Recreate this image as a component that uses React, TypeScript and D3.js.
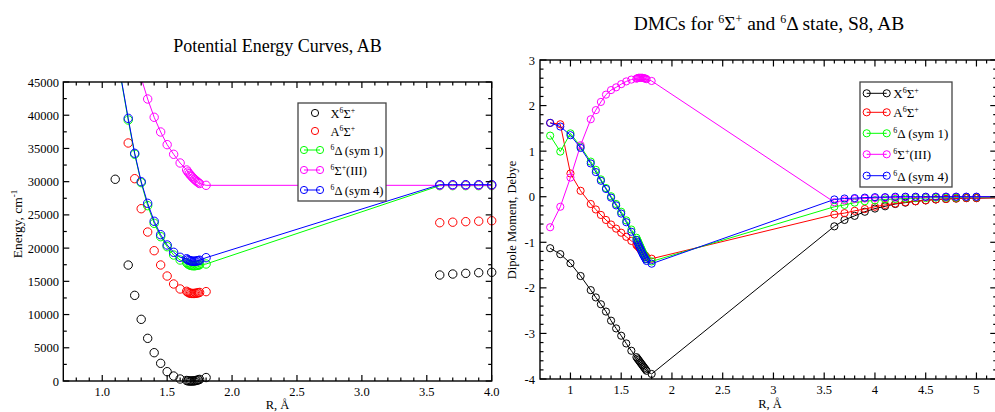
import React from 'react';
import * as d3 from 'd3';

// ---------- Left panel: Potential energy curves (cm^-1) ----------
const pecR_X = [1.1, 1.2, 1.25, 1.3, 1.35, 1.4, 1.45, 1.5, 1.55, 1.6, 1.65, 1.66, 1.67, 1.68, 1.69, 1.7, 1.71, 1.72, 1.73, 1.74, 1.75, 1.8, 3.6, 3.7, 3.8, 3.9, 4.0];
const pecX = [30360, 17450, 12890, 9280, 6420, 4260, 2660, 1400, 750, 300, 80, 30, 5, 0, 0, 10, 30, 60, 110, 170, 240, 520, 15950, 16100, 16200, 16300, 16360];

const pecR_A = [1.2, 1.25, 1.3, 1.35, 1.4, 1.45, 1.5, 1.55, 1.6, 1.65, 1.66, 1.67, 1.68, 1.69, 1.7, 1.71, 1.72, 1.73, 1.74, 1.75, 1.8, 3.6, 3.7, 3.8, 3.9, 4.0];
const pecA = [35820, 30450, 25930, 22420, 19610, 17460, 15800, 14600, 13850, 13500, 13350, 13250, 13200, 13180, 13170, 13180, 13200, 13240, 13280, 13330, 13450, 23820, 23900, 23980, 24050, 24120];

const pecR_D = [1.1, 1.2, 1.25, 1.3, 1.35, 1.4, 1.45, 1.5, 1.55, 1.6, 1.65, 1.66, 1.67, 1.68, 1.69, 1.7, 1.71, 1.72, 1.73, 1.74, 1.75, 1.8, 3.6, 3.7, 3.8, 3.9, 4.0];
const pecD1 = [50500, 39280, 34120, 29850, 26390, 23730, 21720, 20210, 18960, 18210, 17800, 17620, 17500, 17420, 17370, 17350, 17350, 17370, 17400, 17440, 17490, 17610, 29400, 29400, 29400, 29400, 29400];
const pecD4 = [50500, 39530, 34270, 30000, 26740, 24040, 22020, 20470, 19370, 18620, 18400, 18250, 18150, 18080, 18040, 18020, 18020, 18040, 18080, 18120, 18180, 18560, 29550, 29550, 29550, 29550, 29550];

const pecR_S3 = [1.3, 1.35, 1.4, 1.45, 1.5, 1.55, 1.6, 1.65, 1.66, 1.67, 1.68, 1.69, 1.7, 1.71, 1.72, 1.73, 1.74, 1.75, 1.8, 3.6, 3.7, 3.8, 3.9, 4.0];
const pecS3 = [45600, 42440, 39690, 37475, 35570, 34120, 32810, 31760, 31450, 31200, 30980, 30760, 30560, 30370, 30190, 30020, 29860, 29720, 29450, 29450, 29450, 29450, 29450, 29450];

// ---------- Right panel: dipole moment curves (Debye) ----------
const dmcR = [0.8, 0.9, 1.0, 1.1, 1.2, 1.25, 1.3, 1.35, 1.4, 1.45, 1.5, 1.55, 1.6, 1.65, 1.66, 1.67, 1.68, 1.69, 1.7, 1.71, 1.72, 1.73, 1.74, 1.75, 1.8, 3.6, 3.7, 3.8, 3.9, 4.0, 4.1, 4.2, 4.3, 4.4, 4.5, 4.6, 4.7, 4.8, 4.9, 5.0, 5.5];
const dmcX = [-1.13, -1.26, -1.46, -1.74, -2.05, -2.21, -2.36, -2.52, -2.72, -2.89, -3.05, -3.22, -3.38, -3.52, -3.55, -3.58, -3.61, -3.64, -3.67, -3.7, -3.73, -3.76, -3.79, -3.82, -3.89, -0.65, -0.51, -0.42, -0.33, -0.26, -0.21, -0.16, -0.13, -0.1, -0.08, -0.06, -0.05, -0.04, -0.03, -0.03, -0.01];
const dmcA = [1.62, 1.59, 0.51, 0.13, -0.16, -0.28, -0.4, -0.51, -0.61, -0.7, -0.79, -0.88, -0.97, -1.06, -1.08, -1.1, -1.13, -1.16, -1.19, -1.22, -1.25, -1.28, -1.3, -1.33, -1.36, -0.39, -0.36, -0.31, -0.27, -0.22, -0.18, -0.15, -0.12, -0.1, -0.08, -0.06, -0.05, -0.04, -0.03, -0.03, -0.02];
const dmcD1 = [1.34, 0.99, 1.39, 1.1, 0.77, 0.59, 0.38, 0.19, 0.01, -0.16, -0.33, -0.52, -0.72, -0.9, -0.95, -1.0, -1.05, -1.1, -1.15, -1.2, -1.25, -1.29, -1.33, -1.37, -1.42, -0.22, -0.18, -0.13, -0.1, -0.08, -0.06, -0.05, -0.04, -0.03, -0.03, -0.02, -0.02, -0.02, -0.01, -0.01, 0];
const dmcS3 = [-0.67, -0.22, 0.42, 1.13, 1.7, 1.9, 2.08, 2.24, 2.34, 2.4, 2.47, 2.53, 2.57, 2.59, 2.6, 2.61, 2.61, 2.61, 2.61, 2.61, 2.6, 2.6, 2.59, 2.58, 2.54, -0.12, -0.08, -0.05, -0.04, -0.03, -0.02, -0.02, -0.01, -0.01, -0.01, 0, 0, 0, 0, 0, 0];
const dmcD4 = [1.62, 1.54, 1.35, 1.07, 0.73, 0.54, 0.35, 0.17, -0.02, -0.19, -0.37, -0.56, -0.77, -0.95, -1.0, -1.05, -1.1, -1.15, -1.2, -1.25, -1.29, -1.33, -1.37, -1.41, -1.47, -0.06, -0.04, -0.03, -0.02, -0.01, -0.01, 0, 0, 0, 0, 0, 0, 0, 0, 0, 0];

// ---------- labels ----------
type Part = [string, number];
const legendLabels: Part[][] = [
  [['X', 0], ['6', 1], ['Σ', 0], ['+', 1]],
  [['A', 0], ['6', 1], ['Σ', 0], ['+', 1]],
  [['6', 1], ['Δ (sym 1)', 0]],
  [['6', 1], ['Σ', 0], ['+', 1], ['(III)', 0]],
  [['6', 1], ['Δ (sym 4)', 0]],
];
const seriesColors = ['#000000', '#ff0000', '#00ff00', '#ff00ff', '#0000ff'];
const leftTitle = 'Potential Energy Curves, AB';
const rightTitle: Part[] = [['DMCs for ', 0], ['6', 1], ['Σ', 0], ['+', 1], [' and ', 0], ['6', 1], ['Δ state, S8, AB', 0]];
const energyLabel: Part[] = [['Energy, cm', 0], ['-1', 1]];
const dipoleLabel = 'Dipole Moment, Debye';
const rLabel = 'R, Å';

const FONT = '"Liberation Serif", "Times New Roman", serif';

function rich(parts: Part[], shift: number, supSize: number) {
  let cur = 0;
  return parts.map(([t, sup], i) => {
    const target = sup ? -shift : 0;
    const dy = target - cur;
    cur = target;
    return (
      <tspan key={i} dy={dy} fontSize={sup ? supSize : undefined}>
        {t}
      </tspan>
    );
  });
}

function ticksOf(lo: number, hi: number, step: number) {
  const n = Math.round((hi - lo) / step);
  const out: number[] = [];
  for (let i = 0; i <= n; i++) out.push(+(lo + i * step).toFixed(6));
  return out;
}

type Series = { r: number[]; v: number[]; color: string; line: boolean };

function Frame({ x, y, xMaj, xMin, yMaj, yMin, xFmt, yFmt, majLen, minLen, fs, yLabelX }: any) {
  const [x0, x1] = x.range();
  const [y0, y1] = y.range(); // y0 bottom, y1 top
  const els: any[] = [];
  xMaj.forEach((v: number, i: number) => {
    const px = x(v);
    els.push(<line key={'xM' + i} x1={px} x2={px} y1={y0} y2={y0 - majLen} />);
    els.push(<line key={'xMt' + i} x1={px} x2={px} y1={y1} y2={y1 + majLen} />);
  });
  xMin.forEach((v: number, i: number) => {
    const px = x(v);
    els.push(<line key={'xm' + i} x1={px} x2={px} y1={y0} y2={y0 - minLen} />);
    els.push(<line key={'xmt' + i} x1={px} x2={px} y1={y1} y2={y1 + minLen} />);
  });
  yMaj.forEach((v: number, i: number) => {
    const py = y(v);
    els.push(<line key={'yM' + i} x1={x0} x2={x0 + majLen} y1={py} y2={py} />);
    els.push(<line key={'yMr' + i} x1={x1} x2={x1 - majLen} y1={py} y2={py} />);
  });
  yMin.forEach((v: number, i: number) => {
    const py = y(v);
    els.push(<line key={'ym' + i} x1={x0} x2={x0 + minLen} y1={py} y2={py} />);
    els.push(<line key={'ymr' + i} x1={x1} x2={x1 - minLen} y1={py} y2={py} />);
  });
  return (
    <g>
      <g stroke="#000" strokeWidth={1.2}>{els}</g>
      <rect x={x0} y={y1} width={x1 - x0} height={y0 - y1} fill="none" stroke="#000" strokeWidth={1.4} />
      <g fontFamily={FONT} fontSize={fs} fill="#000">
        {xMaj.map((v: number, i: number) => (
          <text key={'xl' + i} x={x(v)} y={y0 + 15} textAnchor="middle">{xFmt(v)}</text>
        ))}
        {yMaj.map((v: number, i: number) => (
          <text key={'yl' + i} x={yLabelX} y={y(v) + 4.5} textAnchor="end">{yFmt(v)}</text>
        ))}
      </g>
    </g>
  );
}

function Curves({ series, x, y, r, clipId }: { series: Series[]; x: any; y: any; r: number; clipId: string }) {
  const gen = d3.line<number>().x((_, i) => 0).y(() => 0);
  return (
    <g clipPath={`url(#${clipId})`}>
      {series.map((s, k) => {
        const pts: [number, number][] = s.r.map((rv, i) => [x(rv), y(s.v[i])]);
        const path = d3.line()(pts) || '';
        return (
          <g key={k}>
            {s.line && <path d={path} fill="none" stroke={s.color} strokeWidth={1} />}
            {pts.map((p, i) => (
              <circle key={i} cx={p[0]} cy={p[1]} r={r} fill="none" stroke={s.color} strokeWidth={1} />
            ))}
          </g>
        );
      })}
    </g>
  );
}

function Legend({ x, y, w, h, rows, lineX0, lineX1, textX, r, fs, lineFlags }: any) {
  return (
    <g>
      <rect x={x} y={y} width={w} height={h} fill="#fff" stroke="#444" strokeWidth={1.3} />
      {rows.map((ry: number, i: number) => {
        const c = seriesColors[i];
        return (
          <g key={i}>
            {lineFlags[i] ? (
              <g>
                <line x1={lineX0} x2={lineX1} y1={ry} y2={ry} stroke={c} strokeWidth={1} />
                <circle cx={lineX0} cy={ry} r={r} fill="none" stroke={c} />
                <circle cx={lineX1} cy={ry} r={r} fill="none" stroke={c} />
              </g>
            ) : (
              <circle cx={(lineX0 + lineX1) / 2 + 3} cy={ry} r={r} fill="none" stroke={c} />
            )}
            <text x={textX} y={ry + 5} fontFamily={FONT} fontSize={fs} fill="#000" style={{ whiteSpace: 'pre' }}>
              {rich(legendLabels[i], 5, fs * 0.62)}
            </text>
          </g>
        );
      })}
    </g>
  );
}

export default function App() {
  // left panel scales
  const lx = d3.scaleLinear().domain([0.7, 4.0]).range([63.3, 491.7]);
  const ly = d3.scaleLinear().domain([0, 45000]).range([381, 82]);
  // right panel scales
  const rx = d3.scaleLinear().domain([0.7, 5.2]).range([540, 996.75]);
  const ry = d3.scaleLinear().domain([-4, 3]).range([379, 60]);

  const leftSeries: Series[] = [
    { r: pecR_X, v: pecX, color: seriesColors[0], line: false },
    { r: pecR_A, v: pecA, color: seriesColors[1], line: false },
    { r: pecR_D, v: pecD1, color: seriesColors[2], line: true },
    { r: pecR_S3, v: pecS3, color: seriesColors[3], line: true },
    { r: pecR_D, v: pecD4, color: seriesColors[4], line: true },
  ];
  const rightSeries: Series[] = [dmcX, dmcA, dmcD1, dmcS3, dmcD4].map((v, i) => ({
    r: dmcR, v, color: seriesColors[i], line: true,
  }));

  const lxMaj = ticksOf(1.0, 4.0, 0.5);
  const lxMin = ticksOf(0.8, 3.9, 0.1).filter((v) => Math.round(v * 10) % 5 !== 0);
  const lyMaj = ticksOf(0, 45000, 5000);
  const lyMin = ticksOf(2500, 42500, 5000);
  const rxMaj = ticksOf(1, 5, 0.5);
  const rxMin = ticksOf(0.8, 5.1, 0.1).filter((v) => Math.round(v * 10) % 5 !== 0);
  const ryMaj = ticksOf(-4, 3, 1);
  const ryMin = ticksOf(-3.8, 2.8, 0.2).filter((v) => Math.abs(v - Math.round(v)) > 1e-6);

  return (
    <svg width={995} height={412} style={{ position: 'absolute', left: 0, top: 0, background: '#fff' }}>
      <defs>
        <clipPath id="clipL">
          <rect x={0} y={82} width={995} height={330} />
        </clipPath>
        <clipPath id="clipR">
          <rect x={0} y={56} width={995} height={356} />
        </clipPath>
      </defs>
      <rect x={0} y={0} width={995} height={412} fill="#fff" />

      {/* Left panel */}
      <text x={277.5} y={52} textAnchor="middle" fontFamily={FONT} fontSize={18}>{leftTitle}</text>
      <Curves series={leftSeries} x={lx} y={ly} r={4.2} clipId="clipL" />
      <Frame x={lx} y={ly} xMaj={lxMaj} xMin={lxMin} yMaj={lyMaj} yMin={lyMin}
        xFmt={d3.format('.1f')} yFmt={(v: number) => String(v)} majLen={6} minLen={3.5} fs={12.5} yLabelX={59} />
      <text x={277.5} y={409} textAnchor="middle" fontFamily={FONT} fontSize={12.5}>{rLabel}</text>
      <text transform="translate(22,224) rotate(-90)" textAnchor="middle" fontFamily={FONT} fontSize={13.5}>
        {rich(energyLabel, 5, 9)}
      </text>
      <Legend x={298} y={103} w={88} h={98} rows={[113, 131, 150, 170, 190]} lineX0={304} lineX1={320}
        textX={330.5} r={3.6} fs={12.5} lineFlags={[false, false, true, true, true]} />

      {/* Right panel */}
      <text x={769} y={30} textAnchor="middle" fontFamily={FONT} fontSize={19.5} style={{ whiteSpace: 'pre' }}>
        {rich(rightTitle, 7, 12)}
      </text>
      <Curves series={rightSeries} x={rx} y={ry} r={3.6} clipId="clipR" />
      <Frame x={rx} y={ry} xMaj={rxMaj} xMin={rxMin} yMaj={ryMaj} yMin={ryMin}
        xFmt={(v: number) => String(v)} yFmt={(v: number) => String(v)} majLen={6.5} minLen={3.5} fs={12.5} yLabelX={535} />
      <text x={770} y={408} textAnchor="middle" fontFamily={FONT} fontSize={12.5}>{rLabel}</text>
      <text transform="translate(516,220) rotate(-90)" textAnchor="middle" fontFamily={FONT} fontSize={12.5}>
        {dipoleLabel}
      </text>
      <Legend x={860} y={82} w={92} h={105} rows={[93.3, 112.3, 133.3, 154.3, 175.7]} lineX0={866.7} lineX1={886.7}
        textX={893.3} r={3.6} fs={13} lineFlags={[true, true, true, true, true]} />
    </svg>
  );
}
